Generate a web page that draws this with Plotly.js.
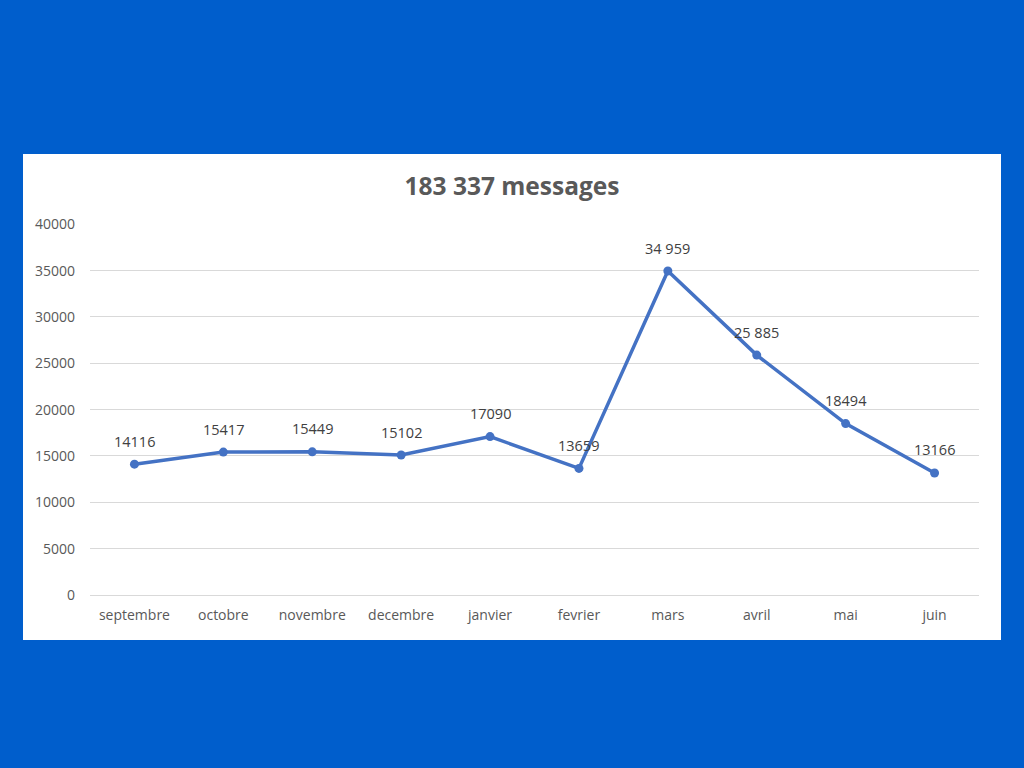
<!DOCTYPE html>
<html>
<head>
<meta charset="utf-8">
<script src="https://cdn.plot.ly/plotly-3.0.1.min.js"></script>
<style>
html,body{margin:0;padding:0;width:1024px;height:768px;background:#005ECC;overflow:hidden;}
#chart{position:absolute;left:23px;top:154px;width:978px;height:486px;background:#fff;}
</style>
</head>
<body>
<div id="chart"></div>
<script>
const months = ["septembre","octobre","novembre","decembre","janvier","fevrier","mars","avril","mai","juin"];
const messages = [14116, 15417, 15449, 15102, 17090, 13659, 34959, 25885, 18494, 13166];
const labels = ["14116","15417","15449","15102","17090","13659","34 959","25 885","18494","13166"];
const titleText = "183 337 messages";

const font = "Open Sans, sans-serif";
const trace = {
  x: months, y: messages,
  type: "scatter", mode: "lines+markers",
  line: {color: "#4472C4", width: 3.5},
  marker: {color: "#4472C4", size: 9},
  cliponaxis: false,
  hoverinfo: "none"
};
const annotations = months.map((m, i) => ({
  x: m, y: messages[i], xref: "x", yref: "y", text: labels[i],
  showarrow: false, xanchor: "center", yanchor: "middle", yshift: 23,
  font: {family: font, size: 14.5, color: "#404040"}
}));
const layout = {
  width: 978, height: 486,
  paper_bgcolor: "#ffffff", plot_bgcolor: "#ffffff",
  margin: {l: 67, r: 22, t: 70, b: 45},
  showlegend: false,
  annotations: annotations,
  title: {text: "<b>" + titleText + "</b>", x: 0.5, xanchor: "center", y: 1 - 32/486, yanchor: "middle",
    font: {family: font, size: 24.5, color: "#595959"}},
  xaxis: {type: "category", range: [-0.5, 9.5], showgrid: false, zeroline: false, showline: false,
    ticks: "", ticklabelstandoff: 10, tickfont: {family: font, size: 14, color: "#595959"}},
  yaxis: {range: [0, 40030], tickvals: [0,5000,10000,15000,20000,25000,30000,35000,40000], showgrid: true, gridcolor: "#d9d9d9", gridwidth: 1,
    zeroline: true, zerolinecolor: "#d9d9d9", zerolinewidth: 1, showline: false, ticks: "",
    tickformat: "d", ticklabelstandoff: 14,
    tickfont: {family: font, size: 14, color: "#595959"}}
};
Plotly.newPlot("chart", [trace], layout, {displayModeBar: false, staticPlot: true});
</script>
</body>
</html>
